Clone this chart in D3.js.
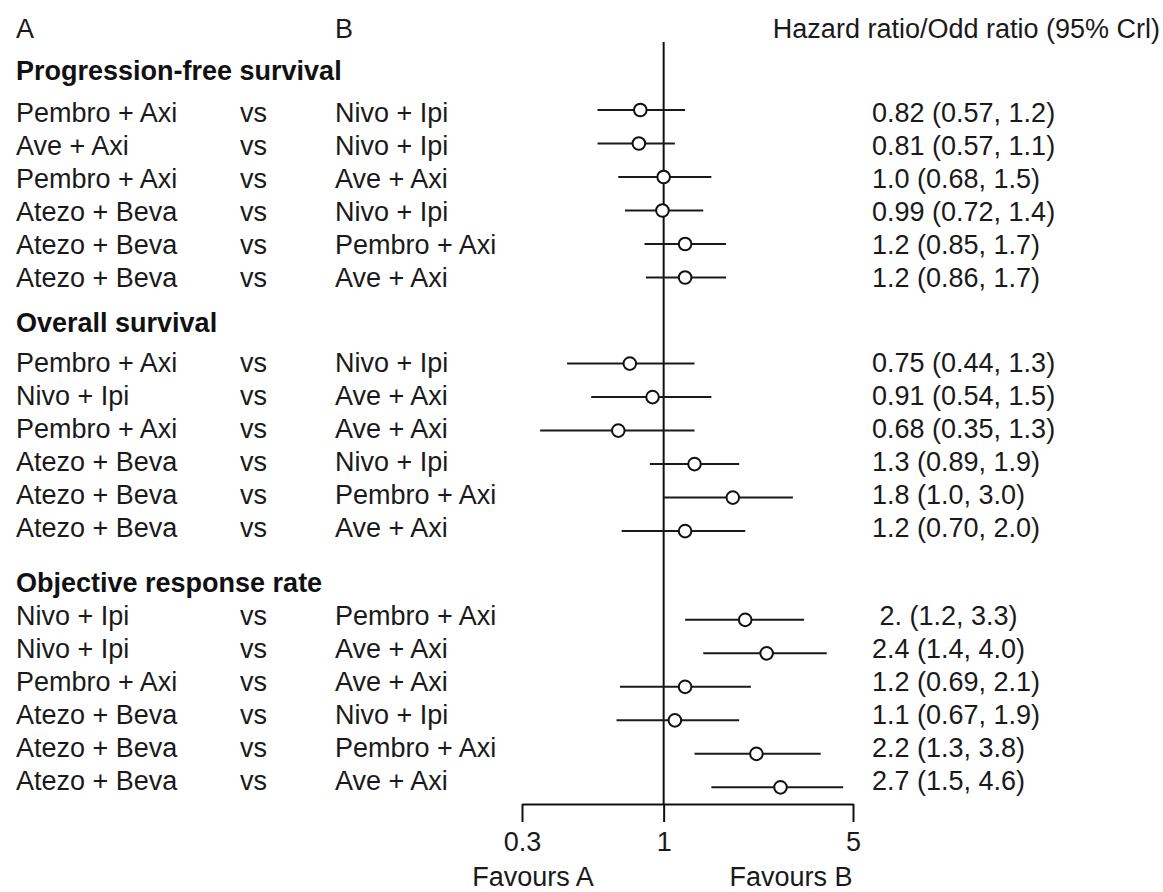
<!DOCTYPE html>
<html>
<head>
<meta charset="utf-8">
<script src="https://cdn.jsdelivr.net/npm/d3@7"></script>
<style>
  body { margin: 0; background: #fff; }
  text { font-family: "Liberation Sans", Arial, sans-serif; font-size: 27px; fill: #1a1a1a; }
</style>
</head>
<body>
<div id="forest"></div>
<script>
// outcome groups
const groups = ["Progression-free survival", "Overall survival", "Objective response rate"];
const rowGroup = [0, 0, 0, 0, 0, 0, 1, 1, 1, 1, 1, 1, 2, 2, 2, 2, 2, 2];

// comparisons, A vs B
const treatA = [
    "Pembro + Axi", "Ave + Axi", "Pembro + Axi", "Atezo + Beva", "Atezo + Beva", "Atezo + Beva",
    "Pembro + Axi", "Nivo + Ipi", "Pembro + Axi", "Atezo + Beva", "Atezo + Beva", "Atezo + Beva",
    "Nivo + Ipi", "Nivo + Ipi", "Pembro + Axi", "Atezo + Beva", "Atezo + Beva", "Atezo + Beva"
];
const treatB = [
    "Nivo + Ipi", "Nivo + Ipi", "Ave + Axi", "Nivo + Ipi", "Pembro + Axi", "Ave + Axi",
    "Nivo + Ipi", "Ave + Axi", "Ave + Axi", "Nivo + Ipi", "Pembro + Axi", "Ave + Axi",
    "Pembro + Axi", "Ave + Axi", "Ave + Axi", "Nivo + Ipi", "Pembro + Axi", "Ave + Axi"
];

// HR / OR with 95% CrI
const estimate = [0.82, 0.81, 1.0, 0.99, 1.2, 1.2, 0.75, 0.91, 0.68, 1.3, 1.8, 1.2, 2.0, 2.4, 1.2, 1.1, 2.2, 2.7];
const lower = [0.57, 0.57, 0.68, 0.72, 0.85, 0.86, 0.44, 0.54, 0.35, 0.89, 1.0, 0.70, 1.2, 1.4, 0.69, 0.67, 1.3, 1.5];
const upper = [1.2, 1.1, 1.5, 1.4, 1.7, 1.7, 1.3, 1.5, 1.3, 1.9, 3.0, 2.0, 3.3, 4.0, 2.1, 1.9, 3.8, 4.6];
const ciLabels = [
    "0.82 (0.57, 1.2)", "0.81 (0.57, 1.1)", "1.0 (0.68, 1.5)", "0.99 (0.72, 1.4)", "1.2 (0.85, 1.7)", "1.2 (0.86, 1.7)",
    "0.75 (0.44, 1.3)", "0.91 (0.54, 1.5)", "0.68 (0.35, 1.3)", "1.3 (0.89, 1.9)", "1.8 (1.0, 3.0)", "1.2 (0.70, 2.0)",
    " 2. (1.2, 3.3)", "2.4 (1.4, 4.0)", "1.2 (0.69, 2.1)", "1.1 (0.67, 1.9)", "2.2 (1.3, 3.8)", "2.7 (1.5, 4.6)"
];

const tickValues = [0.3, 1, 5];

function drawForest() {
    const width = 1163, height = 892;

    const svg = d3.select("#forest")
        .append("svg")
        .attr("width", width)
        .attr("height", height);

    // log scale for the ratios
    const x = d3.scaleLog().domain([0.3, 5]).range([522, 853]);

    // row slots: each group starts after a gap
    const groupStart = [0, 7.57, 15.22];
    const titleGap = [42, 40, 33];
    const slot = rowGroup.map((g, i) => groupStart[g] + (i - rowGroup.indexOf(g)));
    const y = d3.scaleLinear().domain([0, 1]).range([110, 143.5]);
    const yText = d3.scaleLinear().domain([0, 15.22]).range([122, 625]);

    const rows = estimate.map((d, i) => ({
        a: treatA[i], b: treatB[i], est: d, lo: lower[i], hi: upper[i],
        label: ciLabels[i], slot: slot[i]
    }));

    // column headers
    svg.append("text").attr("x", 16).attr("y", 38).text("A");
    svg.append("text").attr("x", 335).attr("y", 38).text("B");
    svg.append("text").attr("x", 1160).attr("y", 38)
        .attr("text-anchor", "end")
        .text("Hazard ratio/Odd ratio (95% Crl)");

    // group titles
    svg.selectAll(".group-title")
        .data(groups)
        .join("text")
        .attr("class", "group-title")
        .attr("x", 16)
        .attr("y", (d, i) => yText(groupStart[i]) - titleGap[i])
        .style("font-weight", "bold")
        .style("fill", "#111")
        .text(d => d);

    // line of no effect
    svg.append("line")
        .attr("x1", x(1)).attr("x2", x(1))
        .attr("y1", 42).attr("y2", 804)
        .attr("stroke", "#111")
        .attr("stroke-width", 2);

    // text columns
    const txt = svg.selectAll(".row")
        .data(rows)
        .join("g")
        .attr("class", "row");

    txt.append("text").attr("x", 16).attr("y", d => yText(d.slot)).text(d => d.a);
    txt.append("text").attr("x", 240).attr("y", d => yText(d.slot)).text("vs");
    txt.append("text").attr("x", 335).attr("y", d => yText(d.slot)).text(d => d.b);
    txt.append("text")
        .attr("x", 872)
        .attr("y", d => yText(d.slot))
        .attr("xml:space", "preserve")
        .style("white-space", "pre")
        .text(d => d.label);

    // CrI whiskers
    svg.selectAll(".ci")
        .data(rows)
        .join("line")
        .attr("class", "ci")
        .attr("x1", d => x(d.lo))
        .attr("x2", d => x(d.hi))
        .attr("y1", d => y(d.slot))
        .attr("y2", d => y(d.slot))
        .attr("stroke", "#1a1a1a")
        .attr("stroke-width", 2);

    // point estimates
    svg.selectAll(".pt")
        .data(rows)
        .join("circle")
        .attr("class", "pt")
        .attr("cx", d => x(d.est))
        .attr("cy", d => y(d.slot))
        .attr("r", 6.3)
        .attr("fill", "#fff")
        .attr("stroke", "#111")
        .attr("stroke-width", 2);

    // bottom axis
    const axis = svg.append("g")
        .attr("transform", "translate(0,804)")
        .call(d3.axisBottom(x).tickValues(tickValues).tickFormat(d3.format("")).tickSize(18).tickPadding(8).tickSizeOuter(0));
    axis.select(".domain").attr("stroke", "#111").attr("stroke-width", 2);
    axis.selectAll(".tick line").attr("stroke", "#111").attr("stroke-width", 2);
    axis.selectAll(".tick text")
        .attr("font-family", null).attr("font-size", null)
        .attr("dy", null).attr("y", 47);

    svg.append("text").attr("x", 533).attr("y", 886).attr("text-anchor", "middle").text("Favours A");
    svg.append("text").attr("x", 791).attr("y", 886).attr("text-anchor", "middle").text("Favours B");
}

drawForest();
</script>
</body>
</html>
